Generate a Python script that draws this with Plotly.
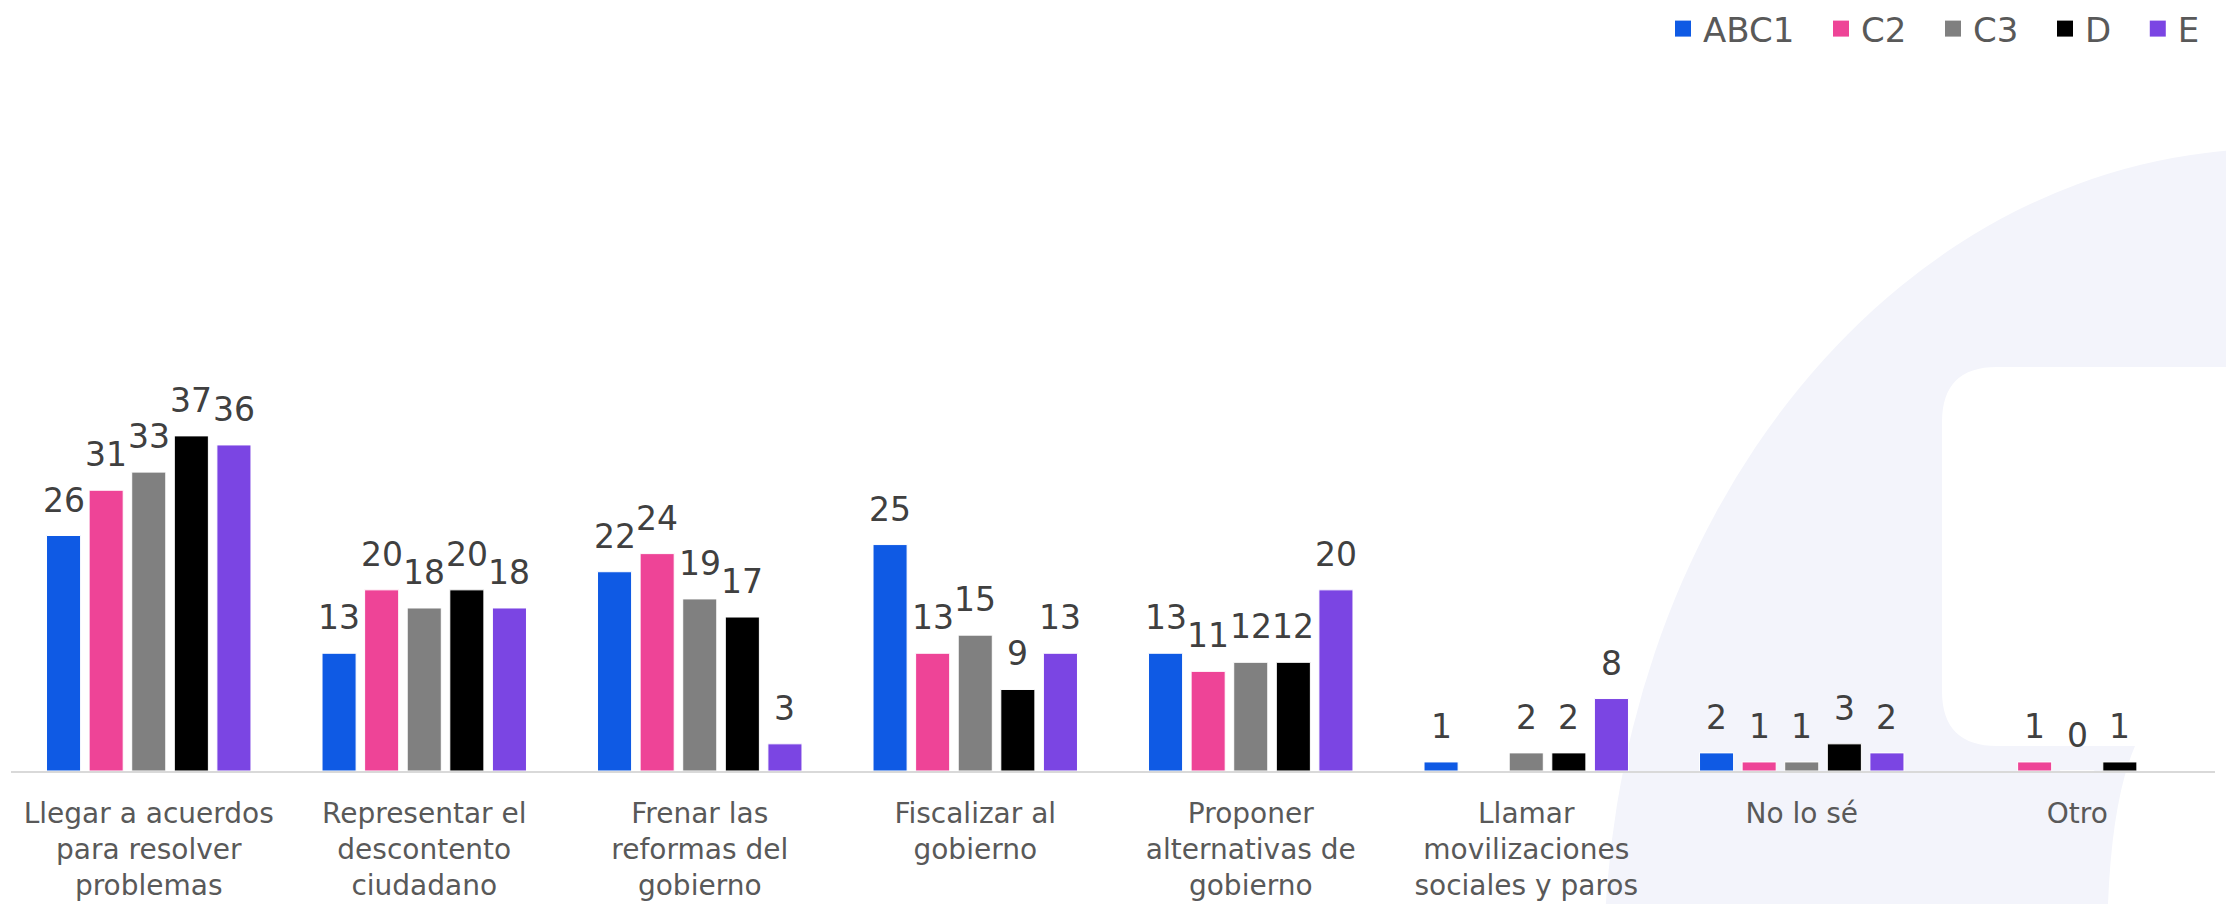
import plotly.graph_objects as go

# ---- data ----
categories = [
    "Llegar a acuerdos<br>para resolver<br>problemas",
    "Representar el<br>descontento<br>ciudadano",
    "Frenar las<br>reformas del<br>gobierno",
    "Fiscalizar al<br>gobierno",
    "Proponer<br>alternativas de<br>gobierno",
    "Llamar<br>movilizaciones<br>sociales y paros",
    "No lo sé",
    "Otro",
]
series_names = ["ABC1", "C2", "C3", "D", "E"]
abc1 = [26, 13, 22, 25, 13, 1, 2, None]
c2 = [31, 20, 24, 13, 11, None, 1, 1]
c3 = [33, 18, 19, 15, 12, 2, 1, 0]
d = [37, 20, 17, 9, 12, 2, 3, 1]
e = [36, 18, 3, 13, 20, 8, 2, None]
series_values = [abc1, c2, c3, d, e]
series_colors = ["#0F5AE4", "#EE4497", "#808080", "#000000", "#7B45E3"]

# ---- layout geometry (pixels) ----
W, H = 2226, 904
ML, MR, MT, MB = 11, 11, 60, 133
PW, PH = W - ML - MR, H - MT - MB
Y_MAX = 78.5
BARGAP, BARGROUPGAP = 0.227, 0.2

FONT = "DejaVu Sans"
LABEL_COLOR = "#404040"
TICK_COLOR = "#595959"
WATERMARK = "#F3F4FB"
LEGEND_PAD = "\u00a0\u00a0"  # extra room after each legend label


def px_x(x):
    return (x - ML) / PW


def px_y(y):
    return (H - MB - y) / PH


fig = go.Figure()

for name, vals, col in zip(series_names, series_values, series_colors):
    fig.add_trace(go.Bar(
        name=name, x=categories, y=vals,
        marker=dict(color=col, line=dict(color="white", width=1)),
        showlegend=False, hoverinfo="x+y",
    ))

# legend entries with larger square swatches
for name, col in zip(series_names, series_colors):
    fig.add_trace(go.Scatter(
        name=name + LEGEND_PAD, x=[None], y=[None], mode="markers",
        marker=dict(symbol="square", size=16, color=col),
        showlegend=True,
    ))

# value labels above each bar
n = len(series_names)
slot_px = (PW / len(categories)) * (1 - BARGAP) / n
annotations = []
for i, vals in enumerate(series_values):
    for cat, v in zip(categories, vals):
        if v is None:
            continue
        annotations.append(dict(
            x=cat, y=v, xref="x", yref="y", text=str(v), showarrow=False,
            xanchor="center", yanchor="bottom",
            xshift=(i - (n - 1) / 2) * slot_px, yshift=14,
            font=dict(family=FONT, size=33, color=LABEL_COLOR),
        ))

# background emblem: soft ellipse with a white rounded notch
shapes = [
    dict(type="circle", xref="paper", yref="paper", layer="below",
         x0=px_x(1604), x1=px_x(2938), y0=px_y(149), y1=px_y(1781),
         fillcolor=WATERMARK, line=dict(width=0)),
]
L, T, B, r = 1942, 367, 746, 55
pts = [
    ("M", (L + r, T)), ("L", (2260, T)), ("L", (2260, 940)), ("L", (2106, 940)),
    ("L", (2108, 904)), ("Q", (2112, 800), (2135, B)), ("L", (L + r, B)),
    ("Q", (L, B), (L, B - r)), ("L", (L, T + r)), ("Q", (L, T), (L + r, T)),
]
path = ""
for item in pts:
    cmd = item[0]
    coords = " ".join(f"{px_x(x):.5f},{px_y(y):.5f}" for x, y in item[1:])
    path += f"{cmd} {coords} "
path += "Z"
shapes.append(dict(type="path", xref="paper", yref="paper", layer="below",
                   path=path, fillcolor="white", line=dict(width=0)))

fig.update_layout(
    width=W, height=H,
    margin=dict(l=ML, r=MR, t=MT, b=MB, pad=0, autoexpand=False),
    paper_bgcolor="white", plot_bgcolor="rgba(0,0,0,0)",
    barmode="group", bargap=BARGAP, bargroupgap=BARGROUPGAP,
    font=dict(family=FONT, color=TICK_COLOR),
    showlegend=True,
    legend=dict(
        orientation="h", xref="container", yref="container",
        x=1.0, xanchor="right", y=1.0, yanchor="top",
        font=dict(family=FONT, size=34, color=TICK_COLOR),
        itemsizing="trace", bgcolor="rgba(0,0,0,0)",
    ),
    xaxis=dict(
        showgrid=False, zeroline=False, showline=True,
        linecolor="#D9D9D9", linewidth=2, ticks="",
        tickfont=dict(family=FONT, size=28, color=TICK_COLOR),
        ticklabelstandoff=16, automargin=False,
        fixedrange=True,
    ),
    yaxis=dict(
        range=[0, Y_MAX], visible=False, showgrid=False, zeroline=False,
        automargin=False, fixedrange=True,
    ),
    annotations=annotations,
    shapes=shapes,
)

fig.write_html("out.html")
